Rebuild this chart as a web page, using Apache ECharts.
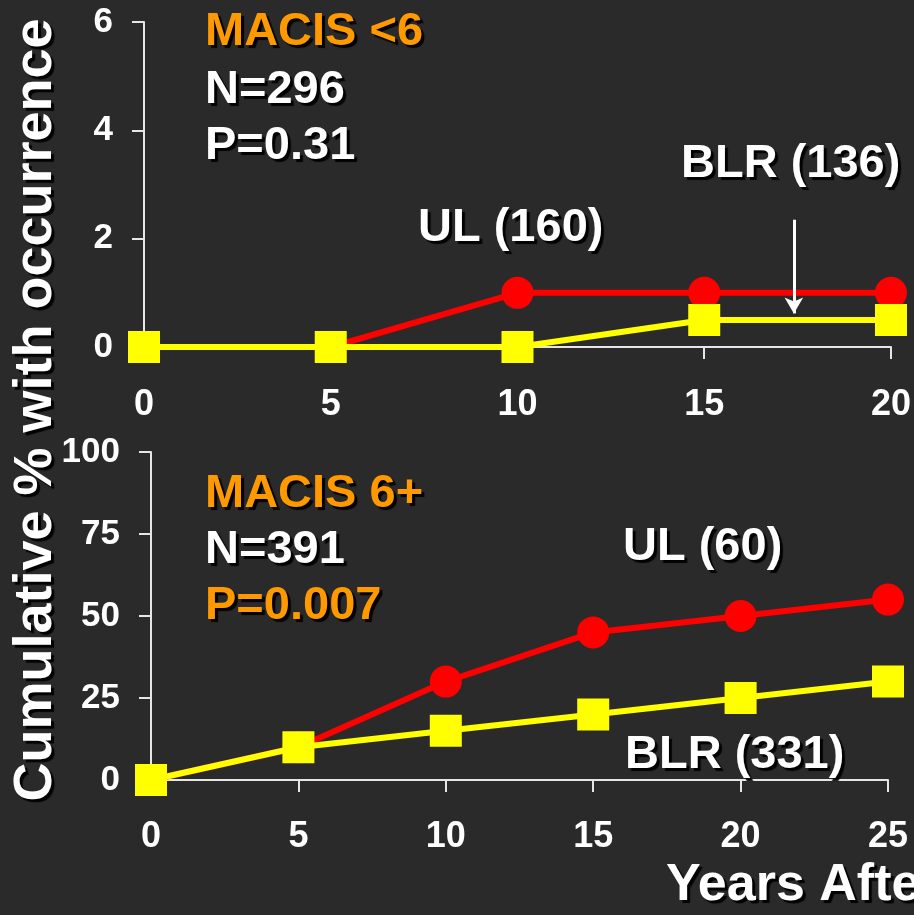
<!DOCTYPE html>
<html>
<head>
<meta charset="utf-8">
<script src="https://cdn.jsdelivr.net/npm/echarts@6/dist/echarts.min.js"></script>
<style>
  html, body { margin: 0; padding: 0; background: #2a2a2a; }
  #chart { width: 914px; height: 915px; }
</style>
</head>
<body>
<div id="chart"></div>
<script>
// Years after surgery (x categories) for each panel
const yearsLow = [0, 5, 10, 15, 20];
const yearsHigh = [0, 5, 10, 15, 20, 25];

// MACIS <6 panel: cumulative % with occurrence
const ulLow = [0, 0, 1, 1, 1];
const blrLow = [0, 0, 0, 0.5, 0.5];

// MACIS 6+ panel: cumulative % with occurrence
const ulHigh = [0, 10, 30, 45, 50, 55];
const blrHigh = [0, 10, 15, 20, 25, 30];

// Tick settings
const yTicksLow = { min: 0, max: 6, interval: 2 };
const yTicksHigh = { min: 0, max: 100, interval: 25 };

const FONT = '"Liberation Sans", Arial, Helvetica, sans-serif';
const WHITE = '#ffffff';
const ORANGE = '#ff9900';
const RED = '#ff0000';
const YELLOW = '#ffff00';
const AXIS = '#e6e6e6';

const pairs = (xs, ys) => xs.map((x, i) => [x, ys[i]]);

function xAxisCfg(gridIndex, max, margin) {
  return {
    type: 'value', gridIndex, min: 0, max, interval: 5,
    axisLine: { show: true, lineStyle: { color: AXIS, width: 2 } },
    axisTick: { show: true, length: 12, lineStyle: { color: AXIS, width: 2 } },
    splitLine: { show: false },
    axisLabel: { color: WHITE, fontFamily: FONT, fontWeight: 'bold', fontSize: 36, margin }
  };
}
function yAxisCfg(gridIndex, t) {
  return {
    type: 'value', gridIndex, min: t.min, max: t.max, interval: t.interval,
    axisLine: { show: true, lineStyle: { color: AXIS, width: 2 } },
    axisTick: { show: true, length: 12, lineStyle: { color: AXIS, width: 2 } },
    splitLine: { show: false },
    axisLabel: { color: WHITE, fontFamily: FONT, fontWeight: 'bold', fontSize: 35, margin: 31 }
  };
}
function lineSeries(xi, data, color, symbol, z, extra) {
  return Object.assign({
    type: 'line', xAxisIndex: xi, yAxisIndex: xi, data,
    symbol, symbolSize: 32, showAllSymbol: true, clip: false, z,
    lineStyle: { color, width: 6 },
    itemStyle: { color, opacity: 1 },
    emphasis: { disabled: true },
    animation: false
  }, extra || {});
}

function label(text, x, y, color, size) {
  return {
    type: 'text', x, y, z: 100,
    style: {
      text, fill: color, font: 'bold ' + (size || 47) + 'px ' + FONT,
      align: 'left', verticalAlign: 'middle',
      textShadowColor: 'rgba(0,0,0,0.95)', textShadowOffsetX: 3, textShadowOffsetY: 3, textShadowBlur: 1
    }
  };
}

const chart = echarts.init(document.getElementById('chart'), null, { renderer: 'canvas' });
chart.setOption({
  backgroundColor: '#2a2a2a',
  animation: false,
  grid: [
    { left: 144, top: 22, width: 747, height: 325 },
    { left: 151, top: 452, width: 737, height: 328 }
  ],
  xAxis: [xAxisCfg(0, 20, 40), xAxisCfg(1, 25, 39)],
  yAxis: [yAxisCfg(0, yTicksLow), yAxisCfg(1, yTicksHigh)],
  series: [
    lineSeries(0, pairs(yearsLow, ulLow), RED, 'circle', 2),
    lineSeries(0, pairs(yearsLow, blrLow), YELLOW, 'rect', 3, {
      markLine: {
        silent: true, animation: false,
        symbol: ['none', 'arrow'], symbolSize: [14, 16],
        label: { show: false },
        lineStyle: { color: WHITE, width: 3, type: 'solid' },
        data: [[{ coord: [17.4, 2.35] }, { coord: [17.4, 0.62] }]]
      }
    }),
    lineSeries(1, pairs(yearsHigh, ulHigh), RED, 'circle', 2),
    lineSeries(1, pairs(yearsHigh, blrHigh), YELLOW, 'rect', 3)
  ],
  graphic: [
    label('MACIS <6', 205, 32, ORANGE),
    label('N=296', 205, 90, WHITE),
    label('P=0.31', 205, 146, WHITE),
    label('UL (160)', 418, 228, WHITE),
    label('BLR (136)', 681, 164, WHITE),
    label('MACIS 6+', 205, 494, ORANGE),
    label('N=391', 205, 550, WHITE),
    label('P=0.007', 205, 606, ORANGE),
    label('UL (60)', 623, 547, WHITE),
    label('BLR (331)', 625, 755, WHITE),
    {
      type: 'text', x: 36, y: 410, rotation: Math.PI / 2, z: 100,
      style: {
        text: 'Cumulative % with occurrence', fill: WHITE, font: 'bold 54px ' + FONT,
        align: 'center', verticalAlign: 'middle',
        textShadowColor: 'rgba(0,0,0,0.95)', textShadowOffsetX: 3, textShadowOffsetY: 3, textShadowBlur: 1
      }
    },
    label('Years After Surgery', 666, 886, WHITE, 52)
  ]
});
</script>
</body>
</html>
